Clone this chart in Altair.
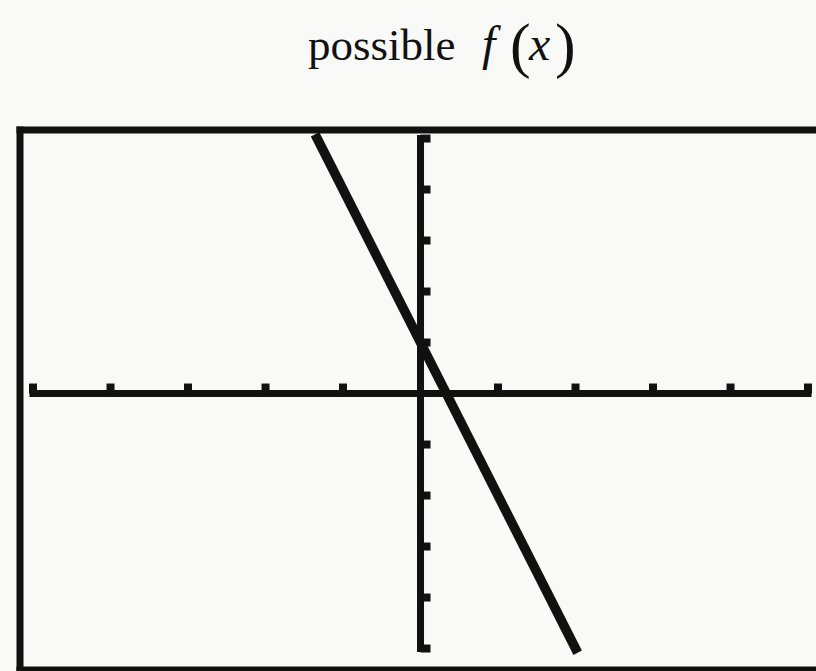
import altair as alt
import pandas as pd

# Graphing-calculator window: Xmin=-5, Xmax=5, Ymin=-5, Ymax=5, scale 1
x_ticks = [-5, -4, -3, -2, -1, 1, 2, 3, 4, 5]
y_ticks = [-5, -4, -3, -2, -1, 1, 2, 3, 4, 5]
axis_x_ends = [-5, 5]
axis_y_ends = [-5, 5]

# Plotted line y = -3x + 1, from where it enters the top of the window to the bottom
line_x = [-4 / 3, 2]
line_y = [5, -5]

# Screen extent around the window (a little margin beyond the tick range)
x_domain = [-5.168, 5.103]
y_domain = [-5.382, 5.167]

W, H = 796, 538
INK = "#111111"

xs = alt.Scale(domain=x_domain, nice=False, zero=False)
ys = alt.Scale(domain=y_domain, nice=False, zero=False)

axes_df = pd.DataFrame({
    "x": [axis_x_ends[0], 0], "x2": [axis_x_ends[1], 0],
    "y": [0, axis_y_ends[0]], "y2": [0, axis_y_ends[1]],
})
xt_df = pd.DataFrame({"x": x_ticks, "y": [0] * len(x_ticks)})
yt_df = pd.DataFrame({"x": [0] * len(y_ticks), "y": y_ticks})
line_df = pd.DataFrame({"x": line_x, "y": line_y})

# Screen frame (left, top, bottom edges)
def edge(**enc):
    return alt.Chart(pd.DataFrame({"k": [0]})).mark_rule(
        color=INK, strokeWidth=7, strokeCap="square"
    ).encode(**enc)

frame_top = edge(x=alt.value(0), x2=alt.value(W), y=alt.value(0))
frame_left = edge(x=alt.value(0), y=alt.value(0), y2=alt.value(H + 2))
frame_bottom = edge(x=alt.value(0), x2=alt.value(W), y=alt.value(H + 2))

axes = alt.Chart(axes_df).mark_rule(
    color=INK, strokeWidth=7, strokeCap="square"
).encode(
    x=alt.X("x:Q", scale=xs, axis=None), x2="x2:Q",
    y=alt.Y("y:Q", scale=ys, axis=None), y2="y2:Q",
)

x_tick_marks = alt.Chart(xt_df).mark_tick(
    color=INK, orient="vertical", size=10, thickness=8, yOffset=-5, opacity=1
).encode(x=alt.X("x:Q", scale=xs, axis=None), y=alt.Y("y:Q", scale=ys, axis=None))

y_tick_marks = alt.Chart(yt_df).mark_tick(
    color=INK, orient="horizontal", size=10, thickness=8, xOffset=5, opacity=1
).encode(x=alt.X("x:Q", scale=xs, axis=None), y=alt.Y("y:Q", scale=ys, axis=None))

graph = alt.Chart(line_df).mark_line(
    color=INK, strokeWidth=9.5, strokeCap="square"
).encode(x=alt.X("x:Q", scale=xs, axis=None), y=alt.Y("y:Q", scale=ys, axis=None))

# Heading "possible f(x)"
def word(text, x, y, size, italic=False):
    return alt.Chart(pd.DataFrame({"t": [text]})).mark_text(
        font="Liberation Serif", fontSize=size, color=INK,
        fontStyle="italic" if italic else "normal",
        align="left", baseline="alphabetic",
    ).encode(text="t:N", x=alt.value(x), y=alt.value(y))

heading = [
    word("possible", 288, -70, 45),
    word("f", 462, -70, 48, italic=True),
    word("(", 490, -64, 62),
    word("x", 509, -70, 48, italic=True),
    word(")", 535, -64, 62),
]

chart = alt.layer(
    frame_top, frame_left, frame_bottom, axes, x_tick_marks, y_tick_marks, graph,
    *heading,
).properties(
    width=W, height=H,
    padding={"left": 20, "top": 130, "right": 0, "bottom": 3},
    autosize=alt.AutoSizeParams(type="none"),
    background="#f9f9f7",
).configure_view(stroke=None)

chart.save("out.html", embed_options={"renderer": "svg", "actions": False})
